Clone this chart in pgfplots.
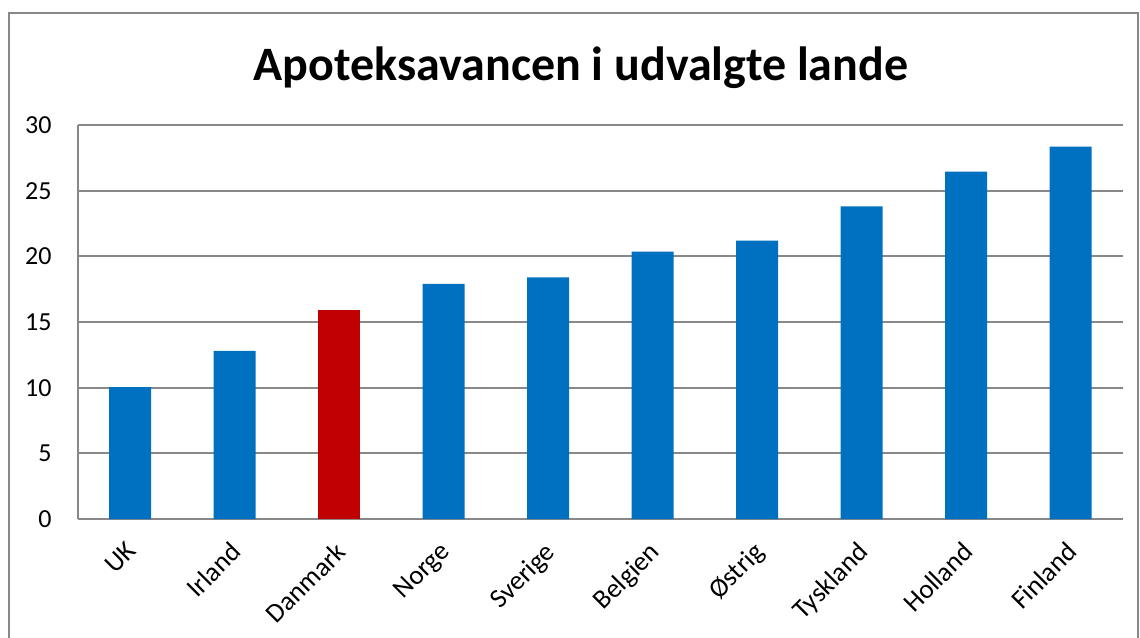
\documentclass[border=0pt]{standalone}
\usepackage{pgfplots}
\pgfplotsset{compat=1.18}
\usepackage{fontspec}
\setmainfont{Carlito}
\definecolor{barblue}{HTML}{0070C0}
\definecolor{barred}{HTML}{C00000}
\definecolor{gridgray}{HTML}{888888}
\begin{document}
\begin{tikzpicture}[x=1pt,y=1pt]
\useasboundingbox (0,0) rectangle (570,-318.5);
\draw[gridgray, line width=0.9pt] (4.5,-330) -- (4.5,-6.5) -- (569,-6.5) -- (569,-330);
\node[anchor=base, font=\bfseries\fontsize{24}{29}\selectfont] at (290.5,-40) {Apoteksavancen i udvalgte lande};
\begin{axis}[
  at={(39pt,-259.5pt)}, anchor=south west,
  scale only axis, width=522.5pt, height=197pt,
  xmin=-0.5, xmax=9.5, ymin=0, ymax=30,
  ytick={0,5,...,30},
  xtick={0,...,9},
  xticklabels={UK,Irland,Danmark,Norge,Sverige,Belgien,Østrig,Tyskland,Holland,Finland},
  axis x line*=bottom, axis y line*=left,
  axis line style={gridgray, line width=0.9pt},
  ymajorgrids, grid style={gridgray, line width=0.9pt},
  major tick length=0pt,
  tick style={draw=none},
  /pgf/number format/assume math mode=true,
  ticklabel style={font=\fontsize{13}{15}\selectfont},
  yticklabel style={anchor=east, inner sep=0pt, xshift=-13pt},
  xticklabel style={font=\fontsize{13.5}{16}\selectfont, xshift=-2.5pt, yshift=-10.5pt, rotate=45, anchor=north east, inner sep=0pt},
  ybar, bar shift=0pt, bar width=21pt,
  clip=false,
]
\addplot[fill=barblue, draw=none] coordinates {(0,10.05) (1,12.8) (3,17.9) (4,18.4) (5,20.35) (6,21.2) (7,23.8) (8,26.45) (9,28.35)};
\addplot[fill=barred, draw=none] coordinates {(2,15.9)};
\end{axis}
\end{tikzpicture}
\end{document}
